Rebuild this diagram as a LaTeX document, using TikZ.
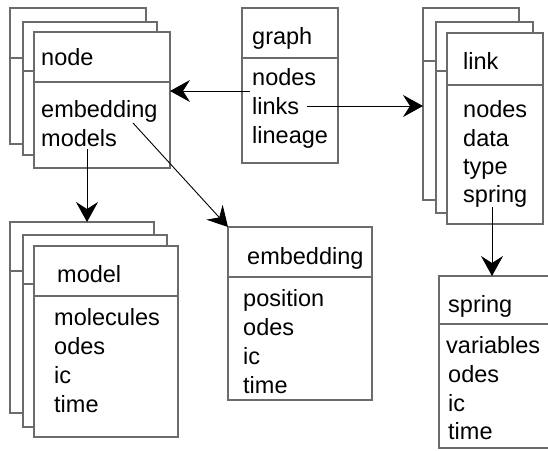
\documentclass[tikz,border=0pt]{standalone}
\usepackage{fontspec}
\setmainfont{Liberation Sans}
\usetikzlibrary{arrows.meta}
\newcommand\classbox[6]{%
  \node[boxline, anchor=north west, minimum width=#4pt, minimum height=#5pt] (#1) at (#2,#3) {};
  \draw[divline] (#2,#6) -- ++(#4,0);}
\begin{document}
\begin{tikzpicture}[x=1pt,y=-1pt,
  boxline/.style={draw=black!58, line width=1.3pt, fill=white, inner sep=0pt, outer sep=0pt},
  divline/.style={draw=black!58, line width=1.3pt},
  lbl/.style={anchor=base west, inner sep=0pt, font=\fontsize{23.5}{28}\selectfont},
  conn/.style={draw=black, line width=0.9pt, -{Stealth[length=20pt,width=22pt,inset=7pt]}}]
\useasboundingbox (0,0) rectangle (548,450);
% node stack
\classbox{nodeA}{10}{8}{136}{136}{58}
\classbox{nodeB}{23}{22}{134}{133}{71}
\classbox{nodeC}{34}{32}{136}{136}{82}
% graph
\classbox{graph}{242}{8}{96}{155}{58}
% link stack
\classbox{linkA}{423}{8}{96}{192}{61}
\classbox{linkB}{436}{22}{97}{191}{71}
\classbox{linkC}{447}{33}{96}{191}{85}
% model stack
\classbox{modelA}{10}{222}{144}{191}{271}
\classbox{modelB}{23}{235}{144}{192}{284}
\classbox{modelC}{34}{246}{144}{191}{296}
% embedding
\classbox{embbox}{228}{227}{144}{173}{277}
% spring (right side runs off the picture)
\node[boxline, draw=none, anchor=north west, minimum width=109pt, minimum height=172pt] (springbox) at (439,276) {};
\draw[divline] (springbox.north east) -- (springbox.north west) -- (springbox.south west) -- (springbox.south east);
\draw[divline] (439,324) -- (548,324);
% labels: node
\node[lbl] (ntitle) at (41,65) {node};
\node[lbl] (nemb) at (41,117) {embedding};
\node[lbl] (nmodels) at (41,146) {models};
% graph
\node[lbl] (gtitle) at (252,44) {graph};
\node[lbl] (gnodes) at (252,85) {nodes};
\node[lbl] (glinks) at (252,114) {links};
\node[lbl] (glineage) at (252,143) {lineage};
% link
\node[lbl] (ltitle) at (463,69) {link};
\node[lbl] (lnodes) at (463,117) {nodes};
\node[lbl] (ldata) at (463,146) {data};
\node[lbl] (ltype) at (463,174) {type};
\node[lbl] (lspring) at (463,202) {spring};
% model
\node[lbl] (mtitle) at (57,282) {model};
\node[lbl] (mmol) at (54,325) {molecules};
\node[lbl] (modes) at (54,354) {odes};
\node[lbl] (mic) at (54,383) {ic};
\node[lbl] (mtime) at (54,412) {time};
% embedding
\node[lbl] (etitle) at (247,264) {embedding};
\node[lbl] (epos) at (243,306) {position};
\node[lbl] (eodes) at (243,335) {odes};
\node[lbl] (eic) at (243,364) {ic};
\node[lbl] (etime) at (243,393) {time};
% spring
\node[lbl] (stitle) at (448,312) {spring};
\node[lbl] (svar) at (446,353) {variables};
\node[lbl] (sodes) at (448,382) {odes};
\node[lbl] (sic) at (448,411) {ic};
\node[lbl] (stime) at (448,439) {time};
% connectors
\coordinate (gstart) at ([xshift=-2pt,yshift=-6pt]gnodes.base west);
\draw[conn] (gstart) -- (gstart -| nodeC.east);
\coordinate (lstart) at ([xshift=55pt,yshift=8pt]glinks.base west);
\draw[conn] (lstart) -- (lstart -| linkA.west);
\coordinate (mstart) at ([xshift=46pt,yshift=-3pt]nmodels.base west);
\draw[conn] (mstart) -- (mstart |- modelA.north);
\coordinate (estart) at ([xshift=92pt,yshift=-6pt]nemb.base west);
\draw[conn] (estart) -- (embbox.north west);
\coordinate (sstart) at ([xshift=29pt,yshift=-5pt]lspring.base west);
\draw[conn] (sstart) -- (sstart |- springbox.north);
\end{tikzpicture}
\end{document}
